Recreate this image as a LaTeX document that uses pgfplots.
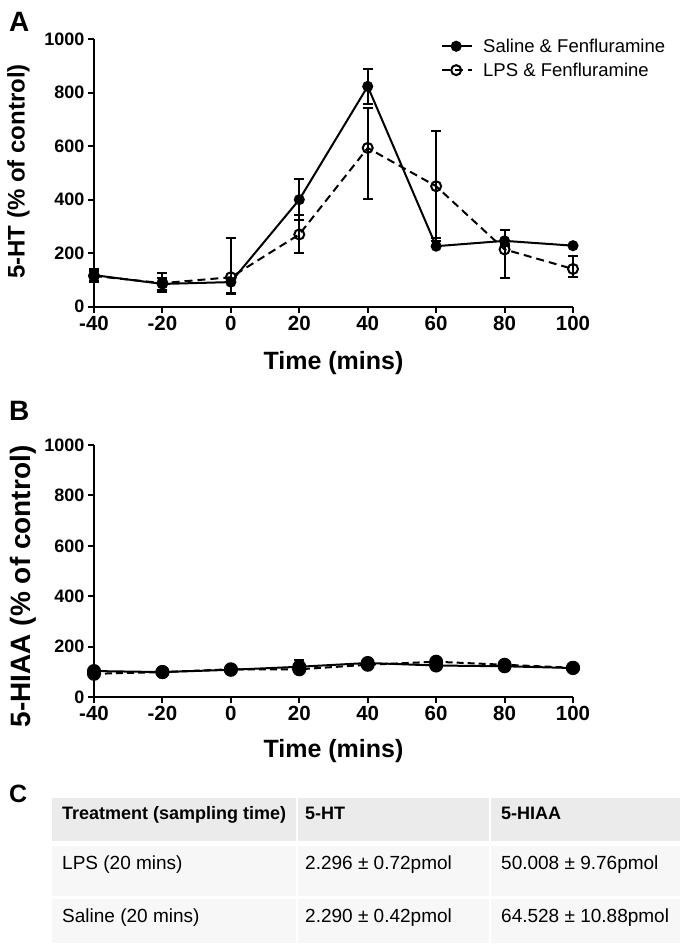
\documentclass[border=0pt]{standalone}
\usepackage{pgfplots}
\pgfplotsset{compat=1.18}
\usepackage{pgfplotstable}
\usepackage{fontspec}
\setmainfont{Liberation Sans}

\definecolor{hdrgray}{HTML}{EBEBEB}
\definecolor{rowgray}{HTML}{F7F7F7}

% Panel A: 5-HT (value, error plus, error minus)
\pgfplotstableread{
t    sal  sp   sm   lps  lp   lm
-40  118  21   21   115  18   22
-20  85   42   30   88   20   25
0    92   10   43   110  145  60
20   400  76   76   270  71   71
40   823  66   66   593  150  189
60   226  31   0    450  205  205
80   246  40   20   214  20   108
100  228  0    0    141  49   29
}\dataA

% Panel B: 5-HIAA
\pgfplotstableread{
t    sal  se   lps  le
-40  103  8    92   8
-20  99   6    99   6
0    108  8    110  8
20   120  25   110  10
40   135  10   128  25
60   125  8    140  8
80   122  8    128  8
100  115  6    116  6
}\dataB

\pgfplotsset{
  myaxis/.style={
    scale only axis,
    width=479pt,
    xmin=-40, xmax=100, ymin=0, ymax=1000,
    axis lines*=left,
    axis line style={line width=2.2pt},
    clip=false,
    xtick={-40,-20,0,20,40,60,80,100},
    xticklabels={-40,-20,0,20,40,60,80,100},
    ytick={0,200,400,600,800,1000},
    yticklabels={0,200,400,600,800,1000},
    tick align=outside,
    major tick length=6pt,
    every tick/.style={black, line width=2pt},
    xticklabel style={font=\bfseries\fontsize{20.5}{23}\selectfont},
    yticklabel style={font=\bfseries\fontsize{18}{20}\selectfont},
    xlabel style={font=\bfseries\fontsize{25}{28}\selectfont},
  },
  ebar/.style={error bars/.cd, y dir=both, y explicit,
    error bar style={line width=2pt, solid},
    error mark options={rotate=90, mark size=5pt, line width=2pt, solid}},
}

\begin{document}
\begin{tikzpicture}
\path[use as bounding box] (0,0) rectangle (686pt,-948pt);

% ---------- Panel A ----------
\node[anchor=north west, inner sep=0pt, font=\bfseries\fontsize{28}{30}\selectfont] at (9pt,-12pt) {A};
\begin{axis}[myaxis,
  at={(94pt,-306.7pt)}, anchor=south west,
  height=267.7pt,
  xlabel={Time (mins)},
  ylabel={5-HT (\% of control)},
  xlabel style={at={(axis description cs:0.5,-0.21)}, anchor=center},
  ylabel style={font=\bfseries\fontsize{24}{27}\selectfont,
    at={(axis description cs:-0.158,0.505)}, anchor=center},
  legend style={at={(axis description cs:0.7244,1.009)}, anchor=north west,
    draw=none, fill=none, inner sep=0pt, row sep=5pt,
    font=\fontsize{18.5}{21}\selectfont,
    nodes={inner sep=2pt},
    /tikz/every odd column/.append style={column sep=8pt}},
  legend cell align=left,
  legend image code/.code={\draw[mark repeat=2, mark phase=2, #1]
     plot coordinates {(0pt,0pt) (14pt,0pt) (30pt,0pt)};},
]
\addplot[black, line width=2pt, mark=*, mark size=4.5pt,
  mark options={solid, fill=black}, ebar]
  table[x=t, y=sal, y error plus=sp, y error minus=sm]{\dataA};
\addplot[black, line width=2pt, dash pattern=on 8pt off 5pt,
  mark=o, mark size=5pt, mark options={solid, fill=white}, ebar]
  table[x=t, y=lps, y error plus=lp, y error minus=lm]{\dataA};
\legend{Saline \& Fenfluramine, LPS \& Fenfluramine}
\end{axis}

% ---------- Panel B ----------
\node[anchor=north west, inner sep=0pt, font=\bfseries\fontsize{28}{30}\selectfont] at (9pt,-401pt) {B};
\begin{axis}[myaxis,
  at={(94pt,-697pt)}, anchor=south west,
  height=252pt,
  xlabel={Time (mins)},
  ylabel={5-HIAA (\% of control)},
  xlabel style={at={(axis description cs:0.5,-0.216)}, anchor=center},
  ylabel style={font=\bfseries\fontsize{28}{31}\selectfont,
    at={(axis description cs:-0.148,0.439)}, anchor=center},
]
\addplot[black, line width=2pt, dash pattern=on 7pt off 4pt,
  mark=*, mark size=6pt, mark options={solid, fill=black},
  error bars/.cd, y dir=plus, y explicit,
  error bar style={line width=1.5pt, solid, gray},
  error mark options={rotate=90, mark size=5pt, line width=1.5pt, solid, gray}]
  table[x=t, y=lps, y error=le]{\dataB};
\addplot[black, line width=2pt, mark=*, mark size=6pt,
  mark options={solid, fill=black}, ebar]
  table[x=t, y=sal, y error=se]{\dataB};
\end{axis}

% ---------- Panel C (table) ----------
\node[anchor=north west, inner sep=0pt, font=\bfseries\fontsize{25}{27}\selectfont] at (9pt,-785pt) {C};
\fill[hdrgray] (52pt,-798pt) rectangle (296pt,-841pt);
\fill[hdrgray] (298pt,-798pt) rectangle (489pt,-841pt);
\fill[hdrgray] (491pt,-798pt) rectangle (680pt,-841pt);
\fill[rowgray] (52pt,-846pt) rectangle (296pt,-896pt);
\fill[rowgray] (298pt,-846pt) rectangle (489pt,-896pt);
\fill[rowgray] (491pt,-846pt) rectangle (680pt,-896pt);
\fill[rowgray] (52pt,-899pt) rectangle (296pt,-943pt);
\fill[rowgray] (298pt,-899pt) rectangle (489pt,-943pt);
\fill[rowgray] (491pt,-899pt) rectangle (680pt,-943pt);
\begin{scope}[every node/.style={anchor=base west, inner sep=0pt}]
\node[font=\bfseries\fontsize{18}{20}\selectfont] at (62pt,-819pt) {Treatment (sampling time)};
\node[font=\bfseries\fontsize{18}{20}\selectfont] at (305pt,-819pt) {5-HT};
\node[font=\bfseries\fontsize{18}{20}\selectfont] at (501pt,-819pt) {5-HIAA};
\node[font=\fontsize{19}{21}\selectfont] at (62pt,-869pt) {LPS (20 mins)};
\node[font=\fontsize{19}{21}\selectfont] at (305pt,-869pt) {2.296 ± 0.72pmol};
\node[font=\fontsize{19}{21}\selectfont] at (501pt,-869pt) {50.008 ± 9.76pmol};
\node[font=\fontsize{19}{21}\selectfont] at (62pt,-922pt) {Saline (20 mins)};
\node[font=\fontsize{19}{21}\selectfont] at (305pt,-922pt) {2.290 ± 0.42pmol};
\node[font=\fontsize{19}{21}\selectfont] at (501pt,-922pt) {64.528 ± 10.88pmol};
\end{scope}
\end{tikzpicture}
\end{document}
